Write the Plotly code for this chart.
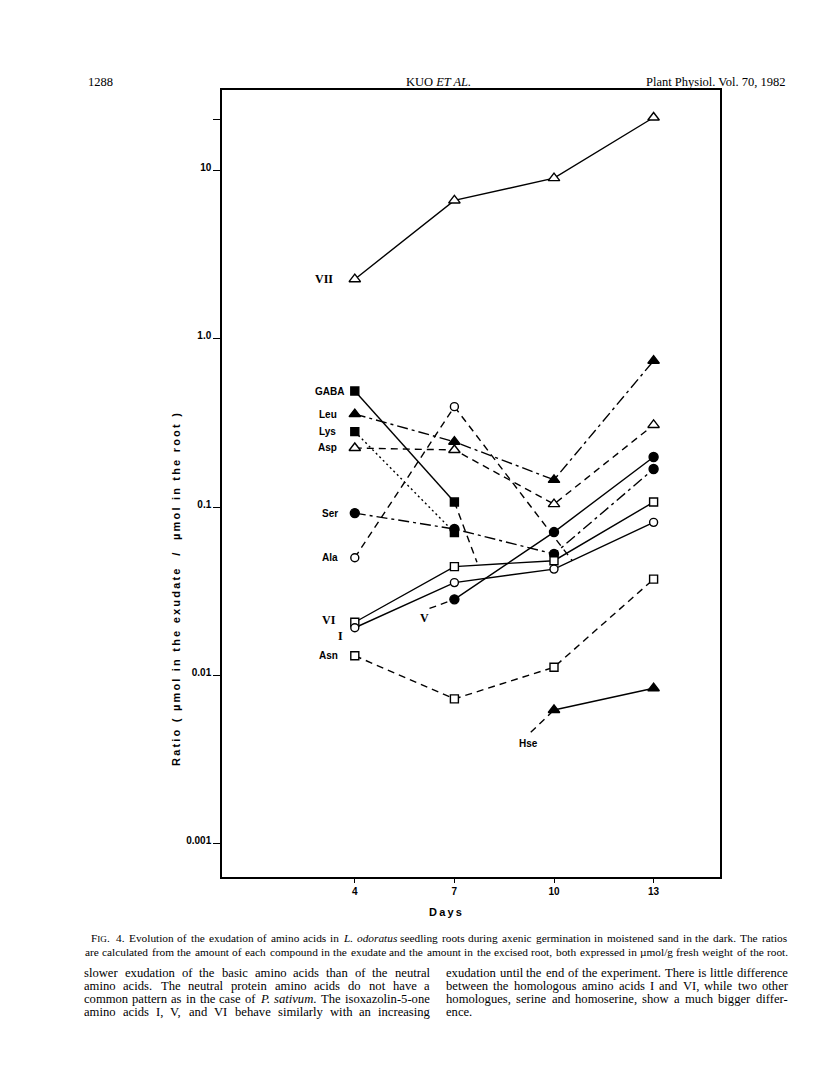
import math
import plotly.graph_objects as go

# days of sampling
days = [4, 7, 10, 13]

# ratios (log scale)
vii = [2.25, 6.6, 8.95, 20.5]
gaba = [0.488, 0.107]
gaba_trail_x = [7, 7.68]
gaba_trail_y = [0.107, 0.047]
leu = [0.356, 0.244, 0.145, 0.738]
lys = [0.280, 0.0705]
asp = [0.224, 0.218, 0.104, 0.307]
ser = [0.092, 0.074, 0.0526, 0.168]
ala = [0.050, 0.394]
ala_trail_x = [7, 10.55]
ala_trail_y = [0.394, 0.048]
vi = [0.0207, 0.0443, 0.048, 0.107]
aa_i = [0.0192, 0.0356, 0.0428, 0.0811]
v_days = [7, 10, 13]
v = [0.0283, 0.071, 0.198]
v_lead_x = [6.25, 7]
v_lead_y = [0.025, 0.0283]
asn = [0.0131, 0.00726, 0.0112, 0.0373]
hse_days = [10, 13]
hse = [0.00624, 0.0084]
hse_lead_x = [9.3, 10]
hse_lead_y = [0.0046, 0.00624]

ytickvals = [0.001, 0.01, 0.1, 1, 10, 20]
yticktext = ["0.001", "0.01", "0.1", "1.0", "10", ""]

SOLID = "solid"
DASH = "7px,5px"
DASHDOT = "11px,4px,3px,4px"
DOT = "2px,3px"
LW = 1.4

# the page is drawn inside an 8px body margin
OFF = 8
PL, PT, PW, PH = 222, 90, 498, 787


def px(xp):
    return (xp - PL) / PW


def py(yp):
    return (PT + PH - yp) / PH


def line(x, y, dash, symbol=None, fill="black", size=8):
    mode = "lines+markers" if symbol else "lines"
    tr = go.Scatter(x=x, y=y, mode=mode, line=dict(color="black", width=LW, dash=dash),
                    showlegend=False, hoverinfo="skip")
    if symbol:
        tr.marker = dict(symbol=symbol, size=size, color=fill,
                         line=dict(color="black", width=1.4))
    return tr


fig = go.Figure()
fig.add_trace(line(days, vii, SOLID, "triangle-up", "white", 10))
fig.add_trace(line(gaba_trail_x, gaba_trail_y, DASH))
fig.add_trace(line(days[:2], gaba, SOLID, "square", "black", 8))
fig.add_trace(line(days, leu, DASHDOT, "triangle-up", "black", 10))
fig.add_trace(line(days[:2], lys, DOT, "square", "black", 8))
fig.add_trace(line(days, asp, DASH, "triangle-up", "white", 10))
fig.add_trace(line(days, ser, DASHDOT, "circle", "black", 9))
fig.add_trace(line(ala_trail_x, ala_trail_y, DASH))
fig.add_trace(line(days[:2], ala, DASH, "circle", "white", 8))
fig.add_trace(line(v_lead_x, v_lead_y, DASH))
fig.add_trace(line(v_days, v, SOLID, "circle", "black", 9))
fig.add_trace(line(days, vi, SOLID, "square", "white", 8))
fig.add_trace(line(days, aa_i, SOLID, "circle", "white", 8))
fig.add_trace(line(days, asn, DASH, "square", "white", 8))
fig.add_trace(line(hse_lead_x, hse_lead_y, DASH))
fig.add_trace(line(hse_days, hse, SOLID, "triangle-up", "black", 10))

sans = dict(family="Liberation Sans", size=10, color="black", weight="bold")
serif = dict(family="Liberation Serif", size=12, color="black", weight="bold")

labels = [
    ("GABA", 4, gaba[0], -9, 0, "right", sans),
    ("Leu", 4, leu[0], -16, 0, "right", sans),
    ("Lys", 4, lys[0], -17, 0, "right", sans),
    ("Asp", 4, asp[0], -16, 0, "right", sans),
    ("Ser", 4, ser[0], -15, 0, "right", sans),
    ("Ala", 4, ala[0], -15, 0, "right", sans),
    ("Asn", 4, asn[0], -15, 0, "right", sans),
    ("VII", 4, vii[0], -20, 0, "right", serif),
    ("VI", 4, vi[0], -17, 2, "right", serif),
    ("I", 4, aa_i[0], -14, -8, "center", serif),
    ("V", v_lead_x[0], v_lead_y[0], -5, -10, "center", serif),
    ("Hse", hse_lead_x[0], hse_lead_y[0], -2, -11, "center", sans),
]
for txt, xv, yv, xs, ys, anc, f in labels:
    fig.add_annotation(x=xv, y=math.log10(yv), text=txt, showarrow=False, xanchor=anc,
                       yanchor="middle", xshift=xs, yshift=ys, font=f)


def page_text(x, y, t, font, anchor="left", **kw):
    fig.add_annotation(xref="paper", yref="paper", x=px(x), y=py(y), text=t, showarrow=False,
                       xanchor=anchor, yanchor="middle", font=font, **kw)


# axis titles
page_text(176, 590, "\u2009".join("Ratio ( \u00b5mol in the exudate  /  \u00b5mol in the root )"),
          dict(family="Liberation Sans", size=11, weight="bold", color="black"), "center",
          textangle=-90)
page_text(445, 912, "\u2009".join("Days"),
          dict(family="Liberation Sans", size=11, weight="bold", color="black"), "center")

# Times metrics (1/1000 em) used to justify the text lines
TW = {" ": 250, ",": 250, ".": 250, "-": 333, "(": 333, ")": 333, "/": 278, ":": 278,
      ";": 278, "\u00b5": 500}
TW.update({c: 500 for c in "0123456789"})
TW.update(dict(zip("ABCDEFGHIJKLMNOPQRSTUVWXYZ",
                   [722, 667, 667, 722, 611, 556, 722, 722, 333, 389, 722, 611, 889, 722, 722,
                    556, 722, 667, 556, 611, 722, 722, 944, 722, 722, 611])))
TW.update(dict(zip("abcdefghijklmnopqrstuvwxyz",
                   [444, 500, 444, 500, 444, 333, 500, 500, 278, 278, 500, 278, 778, 500, 500,
                    500, 500, 333, 389, 278, 500, 500, 722, 500, 500, 444])))

# words drawn with markup
MARKUP = {"FIG.": "F<span style='font-size:80%'>IG</span>.",
          "L.": "<i>L.</i>", "odoratus": "<i>odoratus</i>",
          "P.": "<i>P.</i>", "sativum.": "<i>sativum</i>."}


def tw(s, size):
    return sum(TW.get(c, 500) for c in s) * size / 1000.0


def justified(x0, x1, y, text, font, justify=True):
    words = text.split(" ")
    size = font["size"]
    widths = [tw(w, size) for w in words]
    if justify and len(words) > 1:
        gap = (x1 - x0 - sum(widths)) / (len(words) - 1)
    else:
        gap = TW[" "] * size / 1000.0
    x = x0
    for w, wd in zip(words, widths):
        page_text(x, y, MARKUP.get(w, w), font, "left", borderpad=0)
        x += wd + gap


# page header
times = dict(family="Liberation Serif", size=12.5, color="black")
page_text(86, 82, "1288", times)
page_text(438, 82, "KUO <i>ET AL.</i>", times, "center")
page_text(788, 82, "Plant Physiol. Vol. 70, 1982", times, "right")

# caption
caption = [
    (90, 786, 938, "FIG. 4. Evolution of the exudation of amino acids in L. odoratus seedling roots "
                   "during axenic germination in moistened sand in the dark. The ratios"),
    (84, 787, 952, "are calculated from the amount of each compound in the exudate and the amount "
                   "in the excised root, both expressed in \u00b5mol/g fresh weight of the root."),
]
cap_size = 0.975 * (787 - 84) / tw(caption[1][3], 1)
cap = dict(family="Liberation Serif", size=cap_size, color="black")
for x0, x1, y0, t in caption:
    justified(x0, x1, y0, t, cap)

# body text, two columns
left_col = [
    "slower exudation of the basic amino acids than of the neutral",
    "amino acids. The neutral protein amino acids do not have a",
    "common pattern as in the case of P. sativum. The isoxazolin-5-one",
    "amino acids I, V, and VI behave similarly with an increasing",
]
right_col = [
    "exudation until the end of the experiment. There is little difference",
    "between the homologous amino acids I and VI, while two other",
    "homologues, serine and homoserine, show a much bigger differ-",
    "ence.",
]
body_size = 0.985 * (787 - 445) / tw(right_col[0], 1)
body = dict(family="Liberation Serif", size=body_size, color="black")
for k, t in enumerate(left_col):
    justified(83, 429, 973 + 13 * k, t, body)
for k, t in enumerate(right_col):
    justified(445, 787, 973 + 13 * k, t, body, justify=(k < 3))

fig.update_layout(
    width=816 - 2 * OFF, height=1073 - 2 * OFF,
    margin=dict(l=PL - OFF, t=PT - OFF, r=816 - OFF - (PL + PW), b=1073 - OFF - (PT + PH)),
    paper_bgcolor="white", plot_bgcolor="white",
    font=dict(color="black"),
    xaxis=dict(range=[0, 15], tickvals=days, ticktext=[str(d) for d in days],
               showgrid=False, zeroline=False, showline=True, mirror=True,
               linecolor="black", linewidth=1.5, ticks="outside", ticklen=4,
               tickcolor="black", tickfont=dict(family="Liberation Sans", size=10, weight="bold",
                                                color="black")),
    yaxis=dict(type="log", range=[-3.196, 1.475], tickvals=ytickvals, ticktext=yticktext,
               showgrid=False, zeroline=False, showline=True, mirror=True,
               linecolor="black", linewidth=1.5, ticks="outside", ticklen=7,
               ticklabelshift=-3,
               tickcolor="black", tickfont=dict(family="Liberation Sans", size=10, weight="bold",
                                                color="black")),
)

fig.write_html("out.html")
